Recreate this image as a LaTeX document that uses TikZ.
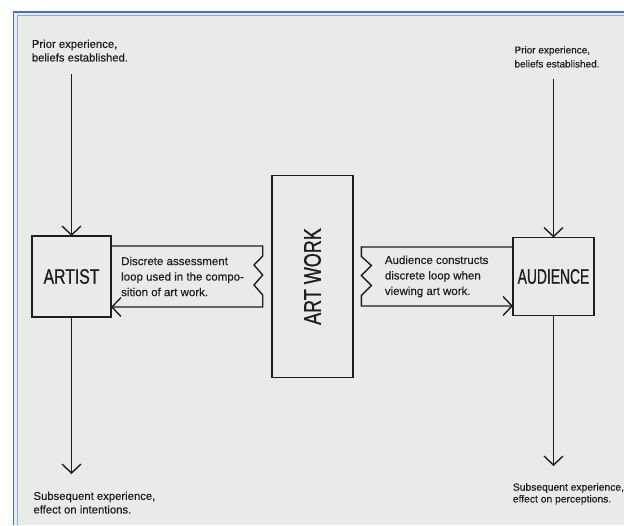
\documentclass[tikz,border=0pt]{standalone}
\usepackage{graphicx}
\usepackage{fontspec}
\setmainfont{Liberation Sans}
\newfontfamily\notefont{Liberation Sans}[FakeBold=0.4]
\newfontfamily\boxfont{Liberation Sans}[FakeStretch=0.75, FakeBold=0.8]
\usetikzlibrary{calc}
\usetikzlibrary{arrows.meta, positioning}

\definecolor{paperbg}{RGB}{234,234,232}
\definecolor{frameblue}{RGB}{68,114,196}
\definecolor{ink}{RGB}{30,30,30}

\begin{document}
\begin{tikzpicture}[
    x=1pt, y=-1pt, % toạ độ theo điểm ảnh
    box/.style={
      rectangle,
      draw=ink,
      line width=1.4pt,
      outer sep=0pt,
      inner sep=2pt,
      text=ink,
      font=\boxfont\fontsize{21}{24}\selectfont
    },
    note/.style={
      inner sep=0pt,
      align=left,
      text=ink,
      font=\notefont\fontsize{11.3}{13.6}\selectfont
    },
    looptext/.style={
      note,
      font=\notefont\fontsize{11.5}{15.5}\selectfont
    },
    arrow/.style={
      -{Straight Barb[length=9pt,width=19pt]},
      line width=1.4pt,
      draw=ink
    }
  ]

  % Khung nền
  \useasboundingbox (0,0) rectangle (624,525);
  \fill[white] (0,0) rectangle (624,525);
  \fill[paperbg] (13.5,12) rectangle (624,525);
  \draw[frameblue, line width=1.6pt] (13.5,525) |- (624,12);
  \draw[frameblue!60, line width=1pt] (17,525) |- (624,15.5);

  % Các hộp chính
  \node[box, minimum width=79pt, minimum height=81pt] (artist) at (71.5,276.5) {ARTIST};
  \node[box, minimum width=81pt, minimum height=202pt, right=161pt of artist] (artwork)
    {\rotatebox{90}{\fontsize{24}{26}\selectfont ART WORK}};
  \node[box, minimum width=81pt, minimum height=78pt, right=160pt of artwork] (audience)
    {\scalebox{0.88}[1]{AUDIENCE}};

  % Chữ trong vòng lặp
  \node[looptext, right=10pt of artist] (assessL) {Discrete assessment\\loop used in the compo-\\sition of art work.};
  \node[looptext, right=31.7pt of artwork] (constructR) {Audience constructs\\discrete loop when\\viewing art work.};

  % Chữ trên và dưới
  \node[note, anchor=north west] (priorL) at (31.7,39.5) {Prior experience,\\beliefs established.};
  \node[note, anchor=north west, font=\notefont\fontsize{10}{14}\selectfont] (priorR) at (514.3,46) {Prior experience,\\beliefs established.};
  \node[note, anchor=north west] (subL) at (33.3,491.5) {Subsequent experience,\\effect on intentions.};
  \node[note, anchor=north west, font=\notefont\fontsize{10.3}{11.8}\selectfont] (subR) at (512.7,483) {Subsequent experience,\\effect on perceptions.};

  % Mũi tên dọc
  \draw[arrow] ($(priorL.south -| artist.north)+(0,12.5)$) -- (artist.north);
  \draw[arrow] (artist.south) -- ($(artist.south |- subL.north)+(0,-17.5)$);
  \draw[arrow] ($(priorR.south -| audience.north)+(0,10.8)$) -- (audience.north);
  \draw[arrow] (audience.south) -- ($(audience.south |- subR.north)+(0,-17)$);

  % Vòng lặp bên trái (quay về nghệ sĩ)
  \draw[arrow] ($(artist.east)+(0,-30.5)$) -- ++(151.7,0) -- ++(0,10)
    -- ++(-8.7,9) -- ++(8.7,10) -- ++(-8.7,10) -- ++(8.7,10)
    |- ($(artist.east)+(0,30.5)$);

  % Vòng lặp bên phải (đi tới khán giả)
  \draw[arrow] ($(audience.west)+(0,-29.5)$) -- ++(-151.6,0) -- ++(0,9.5)
    -- ++(10,9) -- ++(-10,10) -- ++(10,10) -- ++(-10,10)
    |- ($(audience.west)+(0,29.5)$);

\end{tikzpicture}
\end{document}
